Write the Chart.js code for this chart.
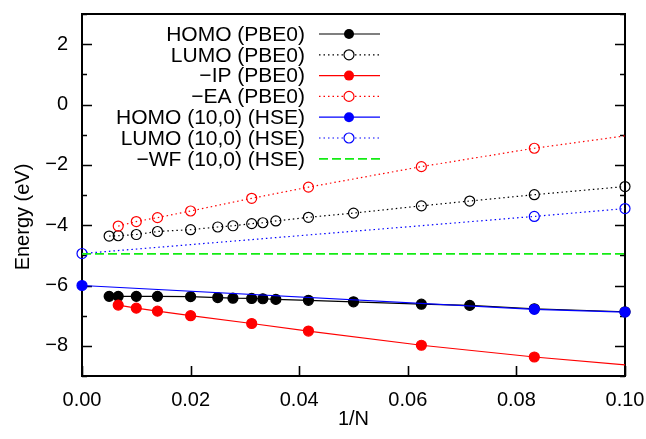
<!DOCTYPE html>
<html>
<head>
<meta charset="utf-8">
<script src="https://cdn.jsdelivr.net/npm/chart.js@4/dist/chart.umd.min.js"></script>
<style>
  body { margin: 0; background: #fff; }
  #wrap { width: 646px; height: 439px; }
</style>
</head>
<body>
<div id="wrap"><canvas id="chart" width="646" height="439"></canvas></div>
<script>
// 1/N values
const xPbe = [0.005, 0.00667, 0.01, 0.0139, 0.02, 0.025, 0.0278, 0.03125, 0.0333, 0.0357, 0.0417, 0.05, 0.0625, 0.0714, 0.0833, 0.1];
const homoPbe = [-6.36, -6.36, -6.36, -6.36, -6.37, -6.40, -6.42, -6.43, -6.44, -6.46, -6.49, -6.54, -6.62, -6.66, -6.77, -6.87];
const lumoPbe = [-4.36, -4.35, -4.31, -4.21, -4.15, -4.06, -4.02, -3.95, -3.92, -3.86, -3.74, -3.60, -3.36, -3.20, -2.99, -2.72];

// -IP / -EA, last entry is where the line ends (no marker)
const xIon = [0.00667, 0.01, 0.0139, 0.02, 0.03125, 0.0417, 0.0625, 0.0833, 0.1];
const negIp = [-6.65, -6.75, -6.85, -7.00, -7.26, -7.51, -7.98, -8.37, -8.63];
const negEa = [-4.03, -3.88, -3.75, -3.53, -3.11, -2.74, -2.06, -1.45, -1.04];

const xHse = [0, 0.0833, 0.1];
const homoHse = [-6.00, -6.79, -6.88];
const lumoHse = [-4.94, -3.71, -3.45];

const xWf = [0, 0.1];
const negWf = [-4.95, -4.95];

const labels = [
  "HOMO (PBE0)",
  "LUMO (PBE0)",
  "\u2212IP (PBE0)",
  "\u2212EA (PBE0)",
  "HOMO (10,0) (HSE)",
  "LUMO (10,0) (HSE)",
  "\u2212WF (10,0) (HSE)",
];

const FONT = "'Liberation Sans', Arial, sans-serif";

function pts(xs, ys) {
  return xs.map((x, i) => ({ x: x, y: ys[i] }));
}

// marker on every point except the last one (end of the line)
function radiiNoLast(n, r) {
  return Array.from({ length: n }, (_, i) => (i === n - 1 ? 0 : r));
}

function makeSet(i, data, color, dash, filled, radius, width) {
  return {
    label: labels[i],
    data: data,
    showLine: true,
    borderColor: color,
    borderWidth: width || 1.2,
    borderDash: dash,
    pointRadius: radius,
    pointBorderWidth: 1.2,
    pointBorderColor: color,
    pointBackgroundColor: filled ? color : "rgba(0,0,0,0)",
    filled: filled,
    clip: false,
    order: 10 - i,
  };
}

const dot = [1.5, 3];

const datasets = [
  makeSet(0, pts(xPbe, homoPbe), "#000", [], true, 5),
  makeSet(1, pts(xPbe, lumoPbe), "#000", dot, false, 5),
  makeSet(2, pts(xIon, negIp), "rgb(255,0,0)", [], true, radiiNoLast(xIon.length, 5)),
  makeSet(3, pts(xIon, negEa), "rgb(255,0,0)", dot, false, radiiNoLast(xIon.length, 5)),
  makeSet(4, pts(xHse, homoHse), "rgb(0,0,255)", [], true, 5),
  makeSet(5, pts(xHse, lumoHse), "rgb(0,0,255)", dot, false, 5),
  makeSet(6, pts(xWf, negWf), "rgb(20,235,20)", [9, 4], false, 0, 1.8),
];

function minus(v) {
  return v < 0 ? "\u2212" + Math.abs(v) : String(v);
}

function noPad(s) {
  s.paddingLeft = 0;
  s.paddingRight = 0;
  s.paddingTop = 0;
  s.paddingBottom = 0;
}

// frame + inward ticks, drawn under the data like gnuplot does
const framePlugin = {
  id: "frame",
  beforeDatasetsDraw(chart) {
    const ctx = chart.ctx;
    const a = chart.chartArea;
    const ys = chart.scales.y;
    const xs = chart.scales.x;
    ctx.save();
    ctx.strokeStyle = "#000";
    ctx.lineWidth = 1.6;
    ctx.beginPath();
    ys.ticks.forEach((t) => {
      const py = Math.round(ys.getPixelForValue(t.value)) + 0.5;
      const len = Math.round(t.value) % 2 === 0 ? 10 : 5;
      ctx.moveTo(a.left, py);
      ctx.lineTo(a.left + len, py);
      ctx.moveTo(a.right, py);
      ctx.lineTo(a.right - len, py);
    });
    xs.ticks.forEach((t) => {
      const px = Math.round(xs.getPixelForValue(t.value)) + 0.5;
      ctx.moveTo(px, a.bottom);
      ctx.lineTo(px, a.bottom - 10);
    });
    ctx.stroke();
    ctx.lineWidth = 2;
    ctx.strokeRect(a.left, a.top, a.right - a.left, a.bottom - a.top);
    ctx.restore();
  },
};

// gnuplot style key (text right aligned, sample on the right) + axis titles
const keyPlugin = {
  id: "key",
  afterDraw(chart) {
    const ctx = chart.ctx;
    const a = chart.chartArea;
    ctx.save();
    ctx.font = "21px " + FONT;
    ctx.textAlign = "right";
    ctx.textBaseline = "middle";
    const textRight = 305;
    const lineL = 319, lineR = 380, mid = 349;
    chart.data.datasets.forEach((ds, i) => {
      const y = 34 + i * 20.8;
      ctx.fillStyle = "#000";
      ctx.fillText(ds.label, textRight, y + 1);
      ctx.strokeStyle = ds.borderColor;
      ctx.lineWidth = ds.borderWidth;
      ctx.setLineDash(ds.borderDash);
      ctx.beginPath();
      ctx.moveTo(lineL, y);
      ctx.lineTo(lineR, y);
      ctx.stroke();
      ctx.setLineDash([]);
      const r = Array.isArray(ds.pointRadius) ? ds.pointRadius[0] : ds.pointRadius;
      if (r > 0) {
        ctx.beginPath();
        ctx.arc(mid, y, r, 0, Math.PI * 2);
        if (ds.filled) {
          ctx.fillStyle = ds.borderColor;
          ctx.fill();
        } else {
          ctx.fillStyle = "#fff";
          ctx.fill();
          ctx.lineWidth = ds.pointBorderWidth;
          ctx.stroke();
        }
      }
    });

    ctx.fillStyle = "#000";
    ctx.font = "20px " + FONT;
    ctx.textAlign = "center";
    ctx.textBaseline = "middle";
    ctx.fillText("1/N", (a.left + a.right) / 2, a.bottom + 43);
    ctx.translate(a.left - 59, (a.top + a.bottom) / 2 + 22);
    ctx.rotate(-Math.PI / 2);
    ctx.fillText("Energy (eV)", 0, 0);
    ctx.restore();
  },
};

const ctx = document.getElementById("chart").getContext("2d");
const chart = new Chart(ctx, {
  type: "scatter",
  data: { datasets: datasets },
  options: {
    responsive: false,
    animation: false,
    layout: { padding: { top: 14, right: 21, left: 0, bottom: 0 } },
    plugins: {
      legend: { display: false },
      tooltip: { enabled: false },
    },
    scales: {
      x: {
        type: "linear",
        min: 0,
        max: 0.1,
        grid: { display: false, drawTicks: false },
        border: { display: false },
        ticks: {
          stepSize: 0.02,
          padding: 12,
          color: "#000",
          font: { family: FONT, size: 20 },
          callback: (v) => v.toFixed(2),
        },
        afterFit: (s) => { s.height = 63; noPad(s); },
      },
      y: {
        type: "linear",
        min: -9,
        max: 3,
        grid: { display: false, drawTicks: false },
        border: { display: false },
        ticks: {
          stepSize: 1,
          padding: 14,
          color: "#000",
          font: { family: FONT, size: 20 },
          callback: (v) => (Math.round(v) % 2 === 0 ? minus(Math.round(v)) : ""),
        },
        afterFit: (s) => { s.width = 82; noPad(s); },
      },
    },
  },
  plugins: [framePlugin, keyPlugin],
});
</script>
</body>
</html>
